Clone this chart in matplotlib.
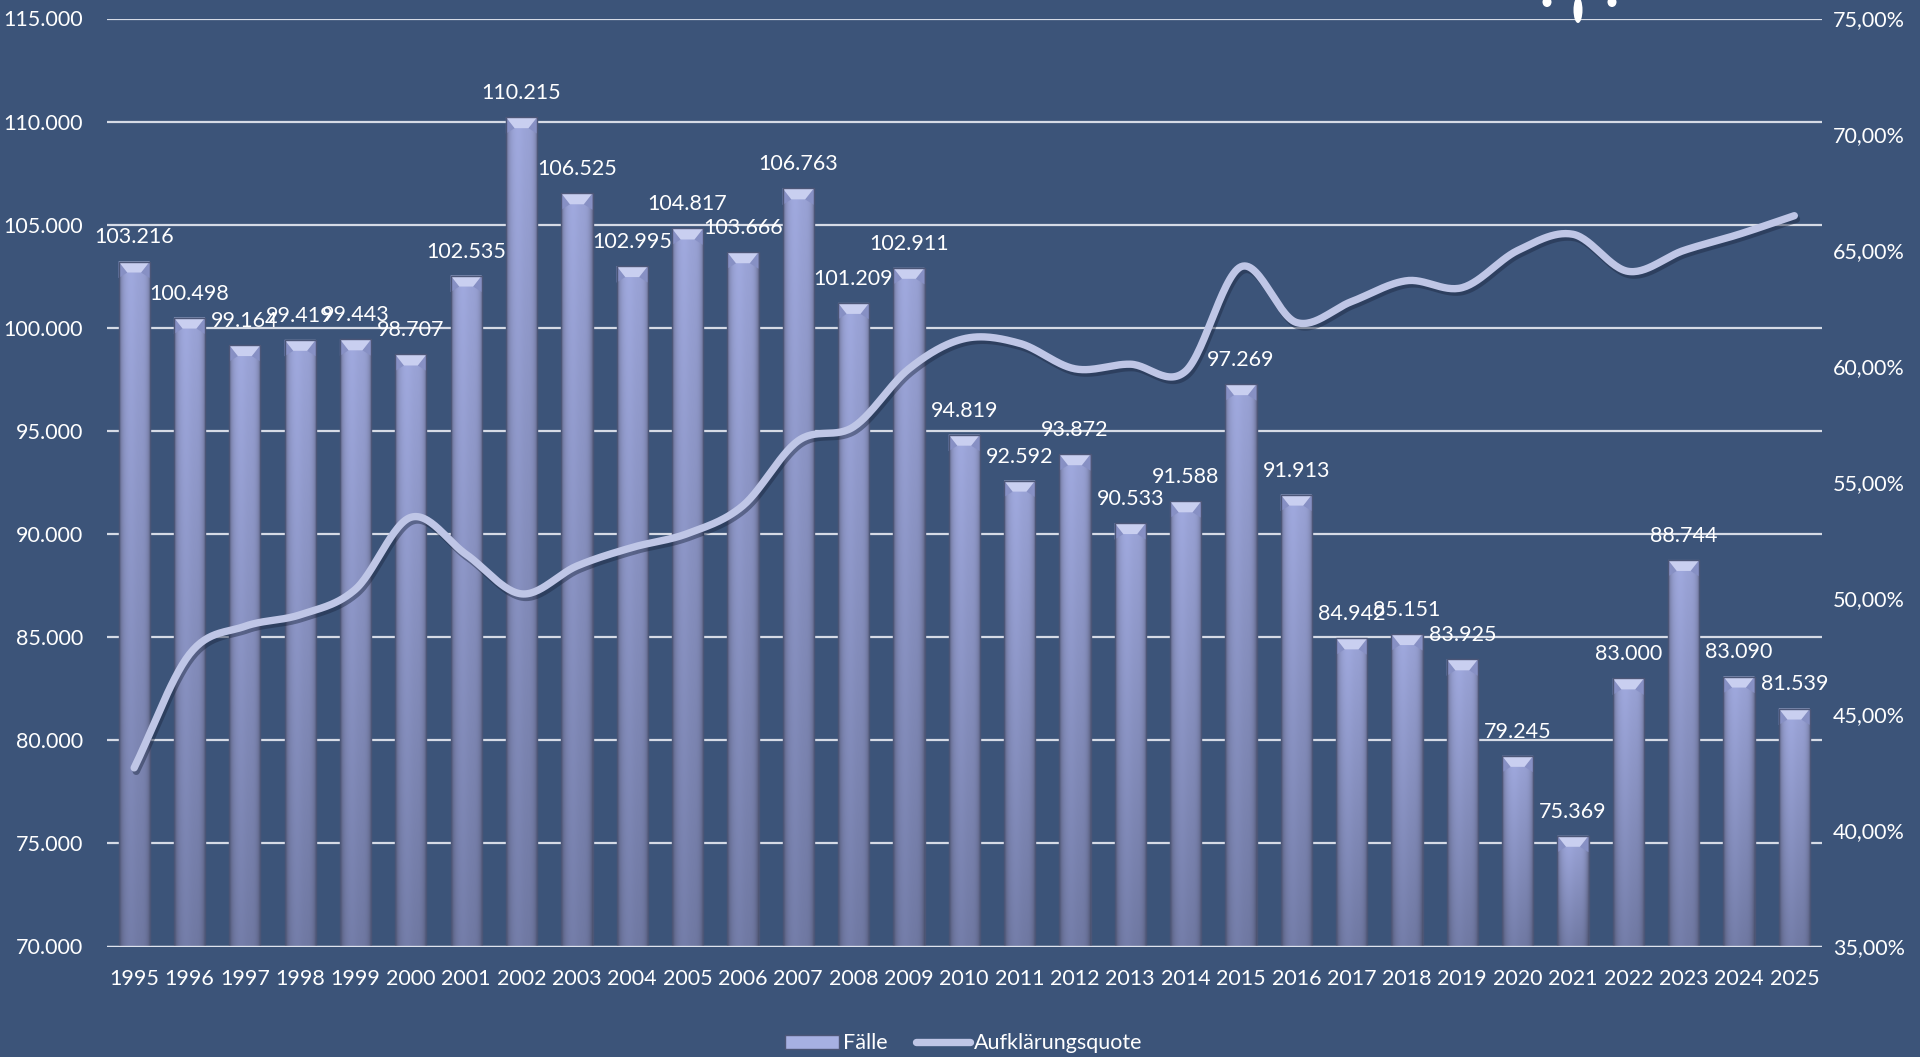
import numpy as np
import matplotlib
matplotlib.use("Agg")
import matplotlib.pyplot as plt
from matplotlib.patches import Patch, Polygon, Ellipse
from matplotlib.lines import Line2D
import matplotlib.patheffects as pe


YEARS = [str(y) for y in range(1995, 2026)]
FAELLE = [103216, 100498, 99164, 99419, 99443, 98707, 102535, 110215, 106525, 102995,
          104817, 103666, 106763, 101209, 102911, 94819, 92592, 93872, 90533, 91588,
          97269, 91913, 84942, 85151, 83925, 79245, 75369, 83000, 88744, 83090, 81539]
QUOTE = [42.7, 47.6, 48.8, 49.3, 50.4, 53.5, 51.9, 50.2, 51.4, 52.2,
         52.8, 54.0, 56.8, 57.4, 59.9, 61.2, 61.0, 59.9, 60.1, 59.8,
         64.3, 61.9, 62.8, 63.7, 63.4, 65.0, 65.7, 64.1, 65.0, 65.7, 66.5]

BG = "#3c5479"
GRID = "#d6dbe6"
TXT = "white"
FONT = ["Lato", "DejaVu Sans"]
FS = 15.5

plt.rcParams['font.family'] = FONT


def catmull_rom(x, y, n=30):
    # smoothed line like the spreadsheet "smooth line" option
    x = np.asarray(x, float)
    y = np.asarray(y, float)
    px = np.concatenate([[2 * x[0] - x[1]], x, [2 * x[-1] - x[-2]]])
    py = np.concatenate([[2 * y[0] - y[1]], y, [2 * y[-1] - y[-2]]])
    xs, ys = [], []
    t = np.linspace(0, 1, n, endpoint=False)
    for i in range(1, len(px) - 2):
        mx0 = (px[i + 1] - px[i - 1]) / 2
        mx1 = (px[i + 2] - px[i]) / 2
        my0 = (py[i + 1] - py[i - 1]) / 2
        my1 = (py[i + 2] - py[i]) / 2
        h00 = 2 * t**3 - 3 * t**2 + 1
        h10 = t**3 - 2 * t**2 + t
        h01 = -2 * t**3 + 3 * t**2
        h11 = t**3 - t**2
        xs.append(h00 * px[i] + h10 * mx0 + h01 * px[i + 1] + h11 * mx1)
        ys.append(h00 * py[i] + h10 * my0 + h01 * py[i + 1] + h11 * my1)
    xs.append([x[-1]])
    ys.append([y[-1]])
    return np.concatenate(xs), np.concatenate(ys)


# bar gradient image
ny, nx = 120, 48
tt = np.linspace(0, 1, ny)[:, None, None]
uu = np.linspace(-1, 1, nx)[None, :, None]
top_c = np.array([154, 163, 214]) / 255
bot_c = np.array([112, 121, 163]) / 255
grad = top_c * (1 - tt) + bot_c * tt
shade = 1 - 0.32 * np.abs(uu) ** 5 + 0.04 * np.exp(-((uu + 0.25) / 0.35) ** 2)
bar_img = np.clip(grad * shade, 0, 1)

fig = plt.figure(figsize=(19.2, 10.57), dpi=100, facecolor=BG)
ax = fig.add_axes([106.5 / 1920, 1 - 946.5 / 1057, (1822 - 106.5) / 1920, 928 / 1057])
ax.set_facecolor(BG)

x = np.arange(len(YEARS))
bars = ax.bar(x, FAELLE, width=0.565, bottom=0, color="#8e9bd0",
              edgecolor="#4c5677", linewidth=1.0, zorder=2)

ylo, yhi = 70000, 115000
cap_h = 11 * (yhi - ylo) / 928
for b in bars:
    x0, w, v = b.get_x(), b.get_width(), b.get_height()
    im = ax.imshow(bar_img, extent=(x0, x0 + w, ylo, v), aspect="auto",
                   interpolation="bilinear", zorder=2.5)
    im.set_clip_path(b)
    b.set_facecolor("none")
    b.set_zorder(3)
    ins = 0.28 * w
    ax.add_patch(Polygon([(x0, v), (x0 + ins, v - cap_h), (x0, v - cap_h * 1.5)],
                         closed=True, facecolor="#8790c4", edgecolor="none", zorder=2.7))
    ax.add_patch(Polygon([(x0 + w, v), (x0 + w - ins, v - cap_h), (x0 + w, v - cap_h * 1.5)],
                         closed=True, facecolor="#8790c4", edgecolor="none", zorder=2.7))
    ax.add_patch(Polygon([(x0, v), (x0 + w, v), (x0 + w - ins, v - cap_h), (x0 + ins, v - cap_h)],
                         closed=True, facecolor="#c9cff0", edgecolor="none", zorder=2.8))

for xi, v in zip(x, FAELLE):
    ax.annotate(f"{v:,}".replace(",", "."), (xi, v), xytext=(0, 13),
                textcoords="offset points", ha="center", va="baseline",
                color=TXT, fontsize=FS, zorder=5)

ax.set_xlim(-0.5, len(YEARS) - 0.5)
ax.set_ylim(ylo, yhi)
ax.set_yticks(np.arange(ylo, yhi + 1, 5000))
ax.set_yticklabels([f"{int(v):,}".replace(",", ".") for v in np.arange(ylo, yhi + 1, 5000)])
ax.set_xticks(x)
ax.set_xticklabels(YEARS)
ax.grid(axis="y", color=GRID, linewidth=1.6, zorder=0)
ax.set_axisbelow(True)
for s in ax.spines.values():
    s.set_visible(False)
ax.axhline(ylo, color="#dfe4ee", linewidth=2.4, zorder=3.5)
ax.tick_params(axis="both", length=0, colors=TXT, labelsize=FS)
ax.tick_params(axis="y", pad=17)
ax.tick_params(axis="x", pad=16)

ax2 = ax.twinx()
ax2.set_ylim(35, 75)
ax2.set_yticks(np.arange(35, 76, 5))
ax2.set_yticklabels([f"{v:.2f}".replace(".", ",") + "%" for v in np.arange(35, 76, 5)])
ax2.tick_params(axis="y", length=0, colors=TXT, labelsize=FS, pad=8)
for s in ax2.spines.values():
    s.set_visible(False)

sx, sy = catmull_rom(x, QUOTE)
ax2.plot(sx, sy, color="#bfc6e6", linewidth=5.3, solid_capstyle="round",
         solid_joinstyle="round", zorder=4,
         path_effects=[pe.SimpleLineShadow(offset=(1.5, -2.5), shadow_color="#1b2740", alpha=0.45),
                       pe.Normal()])

handles = [Patch(facecolor="#a6b0e2", edgecolor="#4c5677", linewidth=1.0),
           Line2D([0], [0], color="#bfc6e6", linewidth=5.3, solid_capstyle="round")]
fig.legend(handles, ["Fälle", "Aufklärungsquote"], loc="center", bbox_to_anchor=(0.502, 0.013),
           ncol=2, frameon=False, fontsize=FS, labelcolor=TXT, handlelength=2.5,
           handleheight=0.6, handletextpad=0.2, columnspacing=1.3)

# partly visible logo drops at the top edge
for cx, h in [(1547, 10), (1578, 26), (1612, 10)]:
    fig.patches.append(Ellipse((cx / 1920, 1 - (h / 2 - 3) / 1057), 9 / 1920, h / 1057,
                               transform=fig.transFigure, facecolor="white", edgecolor="none"))

plt.savefig("out.png", dpi=100, facecolor=BG)
